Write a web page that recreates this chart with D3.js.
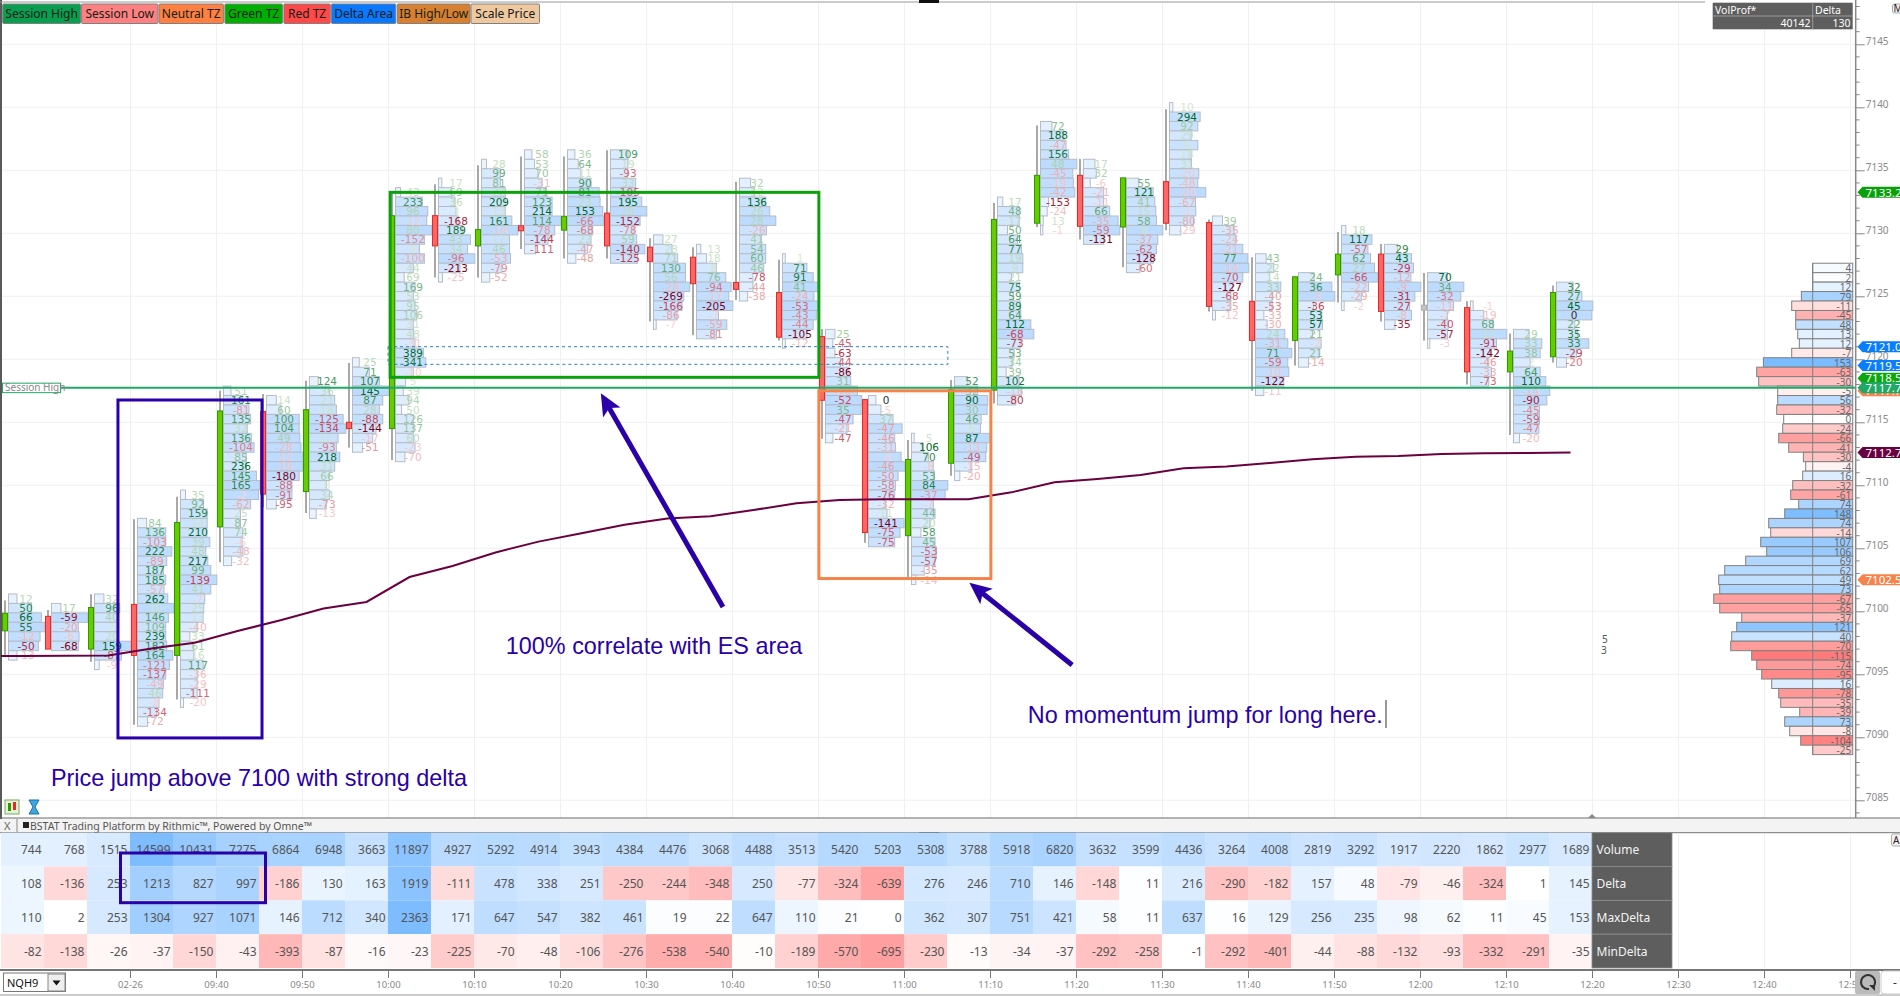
<!DOCTYPE html>
<html><head><meta charset="utf-8">
<script src="https://cdn.jsdelivr.net/npm/d3@7"></script>
<style>
html,body{margin:0;padding:0;background:#fff;overflow:hidden}
svg{display:block}
.axis path{display:none}
</style></head><body>
<svg id="c" width="1900" height="996" xmlns="http://www.w3.org/2000/svg"></svg>
<script>
// ---------- footprint data (one entry per 5-minute bar) ----------
const barTopPrice=[7101,7100.25,7101,7107,7109.25,7117.5,7116.75,7118.25,7119.75,7133.25,7134,7135.5,7136.25,7136.25,7136.25,7129.5,7128.75,7134,7128,7122,7116.75,7113.75,7118.25,7132.5,7138.5,7135.5,7134,7140,7131,7128,7126.5,7130.25,7128.75,7126.5,7124.25,7122,7125.75];
const barDeltas=[
[12,50,66,55,-12,-50,-13],
[17,-59,-20,-6,-68],
[32,96,40,2,20,159,-87,-9],
[84,136,-103,222,-89,187,185,-57,262,19,146,109,239,182,164,-121,-137,-49,46,-8,-134,-72],
[35,92,159,14,210,39,48,217,99,-139,41,-7,25,13,-40,33,61,16,117,-36,-29,-111,-20],
[51,161,-81,135,32,136,-104,85,236,145,165,-2,-62,25,87,74,-6,-48,-32],
[14,60,100,104,49,-28,-12,-19,-180,-88,-91,-95],
[124,36,21,18,-125,-134,12,-93,218,31,66,8,34,-73,-13],
[25,71,107,145,87,28,-88,-144,-17,-51],
[43,233,96,-12,80,-152,9,-100,44,69,169,53,95,106,31,48,-31,389,341,-10,5,39,94,50,126,137,60,-23,-70],
[17,69,36,3,-168,189,43,34,-96,-213,-25],
[28,99,81,22,209,13,161,-14,17,46,-53,-79,-52],
[58,53,70,-31,71,123,214,114,-78,-144,-111],
[36,64,11,90,81,23,153,-66,-68,22,-47,-48],
[109,19,-93,33,-105,195,28,-152,-78,59,-140,-125],
[27,28,71,130,56,-28,-269,-166,-86,-7],
[13,18,8,76,-94,-17,-205,-7,-59,-81],
[32,12,136,26,28,-26,41,54,60,46,-78,-44,-38],
[1,71,91,41,-24,-53,-43,-44,-105,-12],
[25,-45,-63,-44,-86,31,-10,-52,35,-47,-21,-47],
[0,-5,37,-47,-46,-31,-5,-46,-50,-58,-76,-32,11,-141,-75,-75],
[5,106,70,-8,53,84,-37,-7,44,20,58,45,-53,-57,-35,-14],
[52,32,90,30,46,6,87,-13,-49,-15,-20],
[17,48,17,50,64,77,19,9,21,75,59,89,64,112,-68,-73,53,34,39,102,-18,-80],
[72,188,-47,156,48,-45,-19,-42,-153,-24,13,-1],
[17,32,-6,-21,-11,66,-35,-59,-131],
[55,121,41,15,58,8,-37,-62,-128,-60],
[10,294,92,29,9,18,31,-20,-48,-20,-67,-1,-80,-29],
[39,-35,-24,-21,77,-14,-70,-127,-68,-35,-12],
[43,22,14,33,-40,-53,-33,-30,24,-31,71,-59,-10,-122,-11],
[24,36,-3,-36,53,57,21,-2,21,-14],
[18,117,-57,62,27,-66,-22,-29,-2],
[29,43,-29,-12,-9,-31,-27,-8,-35],
[70,34,-32,-11,-7,-40,-57,-3],
[-1,-19,68,13,-91,-142,-46,-33,-73],
[29,33,38,2,64,110,-14,-90,-45,-59,-47,-20],
[32,27,45,0,22,35,33,-29,-20]
];
const barVolumes=[
[25,68,97,107,93,88,25],
[28,108,80,82,80],
[28,75,70,70,70,108,80,14],
[27,84,84,102,87,77,84,79,90,108,92,84,84,87,105,95,84,77,75,64,57,30],
[15,69,80,80,79,88,76,82,91,109,91,73,70,68,50,28,40,40,68,50,50,50,9],
[22,55,75,80,70,82,90,67,67,97,107,103,80,50,50,57,55,57,24],
[27,40,90,90,92,95,100,100,90,70,70,27],
[26,60,75,80,100,108,85,80,90,75,60,50,60,50,20],
[20,50,80,108,90,80,90,70,60,30],
[15,80,96,93,108,86,71,86,53,26,58,53,58,63,53,53,58,83,90,53,30,23,40,18,53,53,53,58,28],
[10,40,50,53,60,73,97,88,110,65,12],
[15,57,57,72,72,72,92,110,85,85,88,62,25],
[22,30,40,52,65,82,82,108,90,70,33],
[22,32,40,70,94,97,105,108,75,70,60,25],
[52,52,50,75,75,93,108,88,70,78,102,80],
[28,55,72,95,95,108,90,85,70,8],
[13,30,60,88,104,97,109,66,91,60],
[33,45,78,90,108,80,65,78,78,72,40,40,24],
[8,70,88,103,90,104,97,88,70,8],
[28,22,28,45,70,75,95,108,106,82,64,22],
[22,37,73,100,78,80,97,108,88,80,78,50,55,106,94,78],
[8,35,50,65,68,108,100,65,70,55,28,70,74,70,38,13],
[40,70,100,98,80,78,109,97,94,52,16],
[16,65,65,30,60,72,76,76,42,66,48,68,70,100,109,68,50,44,26,65,72,55],
[34,70,76,84,108,96,98,102,24,20,8,7],
[34,38,20,60,60,78,103,108,60],
[37,80,85,88,90,109,94,90,80,40],
[10,92,85,65,85,65,66,88,85,109,78,79,72,34],
[30,65,70,91,106,109,91,60,55,55,9],
[32,55,42,76,50,50,25,35,88,97,109,97,100,85,25],
[47,100,109,45,70,72,42,68,62,30],
[13,92,80,88,100,110,82,60,8],
[40,82,88,80,110,92,76,82,32],
[60,109,100,78,60,62,60,7],
[8,40,68,109,78,58,55,63,55],
[47,85,80,50,80,97,109,100,78,78,76,18],
[50,76,109,106,55,63,97,60,30]
];
const candleOpen=[7098.45,7099.6,7097,7100.55,7096.5,7106.7,7115.85,7109.5,7115,7114.5,7131.4,7129,7130.6,7130.25,7131.6,7128.9,7128.1,7126.1,7125.3,7121.8,7116.8,7106,7111.75,7117.55,7130.8,7134.6,7130.5,7134.1,7130.85,7124.6,7121.5,7126.7,7128.35,7124.1,7124.1,7119,7120.2];
const candleClose=[7099.85,7097,7100.3,7096.5,7107.05,7115.9,7109.3,7116,7114.5,7131.4,7129,7130.3,7130.2,7131.35,7129,7127.75,7126,7125.55,7121.75,7116.75,7106.25,7112.05,7117.6,7131.1,7134.6,7130.55,7134.4,7130.8,7124.2,7121.5,7126.55,7128.35,7123.8,7124.1,7119,7120.65,7125.3];
const wickHigh=[7100.85,7100.1,7101.35,7107.3,7109.1,7117.5,7117.25,7118.3,7119.7,7133.2,7133.9,7135.4,7136.1,7136.1,7136.6,7129.6,7128.9,7134.1,7127.9,7122.4,7116.8,7113.6,7118.35,7132.4,7138.55,7135.9,7134.4,7139.85,7131.1,7128.1,7126.55,7130.1,7129.15,7126.85,7124.6,7122.05,7125.85];
const wickLow=[7096.55,7097,7096,7091,7093,7103.9,7108.25,7107.8,7113,7112,7126.5,7126.5,7128.75,7128,7128,7123,7121.9,7124.7,7121.5,7113.7,7105.45,7102.5,7110.75,7116.5,7130.5,7129.5,7127.3,7130.25,7123.8,7117.5,7119.5,7124.5,7123,7121.5,7118,7114,7119.75];
// ---------- VWAP (bar index, price) ----------
const vwapIndex=[-0.5,0,1,2,3,4,5,6,7,8,9,10,11,12,13,14,15,16,17,18,19,20,21,22,23,24,25,26,27,28,29,30,31,32,33,34,35,36];
const vwapPrice=[7096.45,7096.45,7096.47,7096.5,7097.04,7097.51,7098.44,7099.29,7100.22,7100.74,7102.72,7103.6,7104.67,7105.53,7106.2,7106.87,7107.36,7107.55,7108.04,7108.57,7108.83,7108.89,7108.9,7108.9,7109.44,7110.24,7110.5,7110.82,7111.35,7111.49,7111.77,7112.06,7112.27,7112.33,7112.49,7112.54,7112.56,7112.6];
// ---------- session volume profile ----------
const profileTopPrice=7127.25;
const profileDelta=[4,2,12,79,-11,-45,48,13,12,-7,153,-63,-30,-5,56,-32,0,-24,-66,-41,-30,-4,16,-32,-61,74,148,74,-14,107,106,69,62,49,73,-67,-65,-37,121,40,-70,-115,-74,-95,16,-78,-35,-39,73,-8,-104,-25];
const profileVolume=[0,0,0,170,315,255,255,225,200,315,740,840,810,525,525,540,435,450,510,360,140,105,150,300,330,210,420,660,630,780,690,1005,1320,1410,1395,1485,1395,1065,1140,1215,1230,915,840,765,615,510,480,195,420,345,180,0];
// ---------- bottom statistics table ----------
const tableRows=["Volume","Delta","MaxDelta","MinDelta"];
const tableVolume=[744,768,1515,14599,10431,7275,6864,6948,3663,11897,4927,5292,4914,3943,4384,4476,3068,4488,3513,5420,5203,5308,3788,5918,6820,3632,3599,4436,3264,4008,2819,3292,1917,2220,1862,2977,1689];
const tableDelta=[108,-136,253,1213,827,997,-186,130,163,1919,-111,478,338,251,-250,-244,-348,250,-77,-324,-639,276,246,710,146,-148,11,216,-290,-182,157,48,-79,-46,-324,1,145];
const tableMaxDelta=[110,2,253,1304,927,1071,146,712,340,2363,171,647,547,382,461,19,22,647,110,21,0,362,307,751,421,58,11,637,16,129,256,235,98,62,11,45,153];
const tableMinDelta=[-82,-138,-26,-37,-150,-43,-393,-87,-16,-23,-225,-70,-48,-106,-276,-538,-540,-10,-189,-570,-695,-230,-13,-34,-37,-292,-258,-1,-292,-401,-44,-88,-132,-93,-332,-291,-35];
// ---------- axes ----------
const priceTicks=[7145,7140,7135,7130,7125,7120,7115,7110,7105,7100,7095,7090,7085];
const timeLabels=["02-26","09:40","09:50","10:00","10:10","10:20","10:30","10:40","10:50","11:00","11:10","11:20","11:30","11:40","11:50","12:00","12:10","12:20","12:30","12:40","12:50"];
// ---------- toolbar + tags ----------
const legendLabels=["Session High","Session Low","Neutral TZ","Green TZ","Red TZ","Delta Area","IB High/Low","Scale Price"];
const legendColors=["#0a9f50","#ff8080","#ff8040","#00b000","#ff4848","#0a78ff","#d98030","#f0c8a0"];
const tagPrices=[7133.25,7121,7119.5,7118.5,7117.5,7117.75,7112.6,7102.5];
const tagColors=["#0aa00a","#0a7dff","#0a7dff","#0aa80a","#f5834a","#1fa866","#6b0040","#f5834a"];
const tagTexts=["7133.25","7121.00","7119.50","7118.50","7117.75","7117.75","7112.75","7102.50"];
const sessionHigh=7117.75;
// ---------- drawn annotations, in bar index / price ----------
const noteInk="#2a00a8";
const noteBoxes=[
 {i0:2.72,i1:6.07,p0:7116.77,p1:7089.95,c:noteInk},
 {i0:9.05,i1:19.02,p0:7133.25,p1:7118.57,c:"#0ca00c"},
 {i0:19.02,i1:23.02,p0:7117.5,p1:7102.6,c:"#f5834a"}];
const deltaAreaBox={i0:9,i1:22.02,p0:7121,p1:7119.6};
const noteArrows=[{i0:16.79,p0:7100.34,i1:13.95,p1:7117.3},{i0:24.91,p0:7095.74,i1:22.52,p1:7102.27}];
const noteTexts=[
 {t:"100% correlate with ES area",i:11.74,p:7096.6},
 {t:"No momentum jump for long here.",i:23.88,p:7091.15},
 {t:"Price jump above 7100 with strong delta",i:1.16,p:7086.15}];

const svg=d3.select("#c");
const uiFont='"Noto Sans",sans-serif', cellFont='"DejaVu Sans",sans-serif';
const xBar=d3.scaleLinear().domain([0,37]).range([1,1592]);
const yP=d3.scaleLinear().domain([7145,7085]).range([44.3,800.3]);
const rowPx=Math.abs(yP(7100)-yP(7100.75));

// grid
const grid=svg.append("g").attr("stroke","#eef0f2").attr("stroke-width",1);
priceTicks.forEach(p=>grid.append("line").attr("x1",2).attr("x2",1855).attr("y1",yP(p)).attr("y2",yP(p)));
timeLabels.forEach((t,k)=>{const x=xBar(3+2*k)+.5;
  grid.append("line").attr("x1",x).attr("x2",x).attr("y1",3).attr("y2",818);
  if(x>1600)grid.append("line").attr("x1",x).attr("x2",x).attr("y1",834).attr("y2",968);});

// footprint rows
const posInk=d3.scaleLinear().domain([0,.3,.6,1]).range(["#d8ebd2","#a4cea4","#3e9457","#006b2a"]);
const negInk=d3.scaleLinear().domain([0,.3,.6,1]).range(["#f9d4d4","#eba6a6","#c8485c","#800018"]);
const foot=svg.append("g");
barDeltas.forEach((ds,i)=>{
  const vols=barVolumes[i], base=xBar(i)+7;
  const w=d3.scaleLinear().domain([0,d3.max(vols)]).range([0,36.3]);
  const fill=d3.scaleLinear().domain([0,d3.max(vols)]).range(["#f4f9ff","#bcdbff"]);
  const g=foot.append("g");
  g.selectAll("rect").data(ds).join("rect")
    .attr("x",base+.5)
    .attr("y",(d,k)=>yP(barTopPrice[i]-k*.75)-rowPx/2)
    .attr("width",(d,k)=>w(vols[k]))
    .attr("height",rowPx)
    .attr("fill",(d,k)=>fill(vols[k]))
    .attr("stroke","#b4bcc8").attr("stroke-width",1);
});
barDeltas.forEach((ds,i)=>{
  const maxD=d3.max(ds,Math.abs);
  foot.append("g").selectAll("text").data(ds).join("text")
    .attr("x",xBar(i)+25)
    .attr("y",(d,k)=>yP(barTopPrice[i]-k*.75)+3.8)
    .attr("text-anchor","middle").attr("font-family",cellFont).attr("font-size",10.5)
    .attr("fill",d=>d===0?"#333":d>0?posInk(Math.abs(d)/maxD):negInk(Math.abs(d)/maxD))
    .text(d=>d);
});
// candles
const candles=svg.append("g");
candleOpen.forEach((o,i)=>{
  const c=candleClose[i], cx=xBar(i)+4;
  candles.append("line").attr("x1",cx).attr("x2",cx).attr("y1",yP(wickHigh[i])).attr("y2",yP(wickLow[i]))
    .attr("stroke","#a8a8a8").attr("stroke-width",2);
  const up=c>o, flat=Math.abs(c-o)<.05;
  const top=Math.max(o,c), bot=Math.min(o,c);
  candles.append("rect").attr("x",xBar(i)+1.5).attr("width",5)
    .attr("y",yP(flat?top+.2:top)).attr("height",Math.max(yP(flat?top-.2:bot)-yP(flat?top+.2:top),3))
    .attr("fill",flat?"#c4c4c4":up?"#66cc00":"#ff6666")
    .attr("stroke",flat?"#b0b0b0":up?"#2f9a00":"#e82828").attr("stroke-width",1);
});
// vwap
svg.append("path").attr("fill","none").attr("stroke","#6b0040").attr("stroke-width",2)
  .attr("d",d3.line().x((d,k)=>xBar(vwapIndex[k])+21.5).y(d=>yP(d))(vwapPrice));

// volume profile
const profX=1812.7, profR=1852.7;
const profW=d3.scaleLinear().domain([0,1485]).range([0,99]);
const blueProf=d3.scaleLinear().domain([0,16,75,150]).range(["#ffffff","#dcedff","#acd4ff","#7dbcff"]);
const redProf=d3.scaleLinear().domain([0,10,40,115]).range(["#ffffff","#ffdfdf","#ffb4b4","#ff7b7b"]);
const prof=svg.append("g");
prof.selectAll("rect").data(profileDelta).join("rect")
  .attr("x",(d,k)=>profX-profW(profileVolume[k]))
  .attr("y",(d,k)=>yP(profileTopPrice-k*.75)-rowPx/2)
  .attr("width",(d,k)=>profR-profX+profW(profileVolume[k]))
  .attr("height",rowPx)
  .attr("fill",d=>d>=0?blueProf(d):redProf(-d))
  .attr("stroke","#808080").attr("stroke-width",1);
prof.append("line").attr("x1",profX).attr("x2",profX)
  .attr("y1",yP(profileTopPrice)-rowPx/2).attr("y2",yP(profileTopPrice-.75*(profileDelta.length-1))+rowPx/2)
  .attr("stroke","#808080");
prof.append("g").selectAll("text").data(profileDelta).join("text")
  .attr("x",profR-1.5).attr("y",(d,k)=>yP(profileTopPrice-k*.75)+4.2)
  .attr("text-anchor","end").attr("font-family",uiFont).attr("font-size",10).attr("fill","#666").text(d=>d);

// session high line & label
svg.append("line").attr("x1",61).attr("x2",1855).attr("y1",yP(sessionHigh)).attr("y2",yP(sessionHigh))
  .attr("stroke","#1fa866").attr("stroke-width",2);
svg.append("rect").attr("x",2.5).attr("y",yP(sessionHigh)-4.5).attr("width",58).attr("height",9.5)
  .attr("fill","#fff").attr("stroke","#1fa866");
svg.append("text").attr("x",5).attr("y",yP(sessionHigh)+3.6).attr("font-family",uiFont).attr("font-size",10).attr("fill","#888").text("Session High");

// annotation boxes
svg.append("rect").attr("x",xBar(deltaAreaBox.i0)).attr("width",xBar(deltaAreaBox.i1)-xBar(deltaAreaBox.i0))
  .attr("y",yP(deltaAreaBox.p0)).attr("height",yP(deltaAreaBox.p1)-yP(deltaAreaBox.p0))
  .attr("fill","none").attr("stroke","#2f7fc0").attr("stroke-dasharray","3,3");
noteBoxes.forEach(b=>svg.append("rect").attr("x",xBar(b.i0)).attr("width",xBar(b.i1)-xBar(b.i0))
  .attr("y",yP(b.p0)).attr("height",yP(b.p1)-yP(b.p0))
  .attr("fill","none").attr("stroke",b.c).attr("stroke-width",3));
noteArrows.forEach(a=>{
  const x0=xBar(a.i0),y0=yP(a.p0),x1=xBar(a.i1),y1=yP(a.p1);
  const L=Math.hypot(x1-x0,y1-y0),ux=(x1-x0)/L,uy=(y1-y0)/L,nx=-uy,ny=ux;
  svg.append("line").attr("x1",x0).attr("y1",y0).attr("x2",x1-ux*14).attr("y2",y1-uy*14).attr("stroke",noteInk).attr("stroke-width",5);
  svg.append("path").attr("fill",noteInk).attr("d",d3.line()([[x1,y1],[x1-ux*22+nx*10,y1-uy*22+ny*10],[x1-ux*17,y1-uy*17],[x1-ux*22-nx*10,y1-uy*22-ny*10]])+"Z");
});
noteTexts.forEach(n=>svg.append("text").attr("x",xBar(n.i)).attr("y",yP(n.p)).attr("font-family",'"Liberation Sans",sans-serif').attr("font-size",23.4).attr("fill",noteInk).text(n.t));
// typing caret after the last note
svg.append("line").attr("x1",1386).attr("x2",1386).attr("y1",700).attr("y2",728).attr("stroke","#333").attr("stroke-width",1);
// stray numbers
svg.append("text").attr("x",1602).attr("y",643).attr("font-family",uiFont).attr("font-size",10).attr("fill","#555").text("5");
svg.append("text").attr("x",1601).attr("y",654).attr("font-family",uiFont).attr("font-size",10).attr("fill","#555").text("3");

// frame
svg.append("line").attr("x1",1).attr("x2",1).attr("y1",0).attr("y2",832).attr("stroke","#222").attr("stroke-width",1.5);
svg.append("line").attr("x1",0).attr("x2",1705).attr("y1",2).attr("y2",2).attr("stroke","#999");
svg.append("line").attr("x1",0).attr("x2",1900).attr("y1",818).attr("y2",818).attr("stroke","#666");
svg.append("rect").attr("x",919).attr("y",0).attr("width",20).attr("height",3).attr("fill","#111");

// price axis
const axR=svg.append("g").attr("class","axis").attr("transform","translate(1855.7,0)")
  .call(d3.axisRight(yP).tickValues(priceTicks).tickSize(9).tickPadding(1).tickFormat(d3.format("d")));
axR.selectAll("line").attr("stroke","#888");
axR.selectAll("text").attr("dy","0").attr("font-family",uiFont).attr("font-size",10).attr("fill","#8a8a8a");
axR.append("line").attr("y1",0).attr("y2",818).attr("stroke","#888").attr("stroke-width",1.5);
axR.append("g").selectAll("line").data(d3.range(7084,7149).filter(p=>p%5)).join("line")
  .attr("x2",4).attr("y1",d=>yP(d)).attr("y2",d=>yP(d)).attr("stroke","#888");

// price tags
const tags=svg.append("g");
tagPrices.forEach((p,k)=>{
  const y=yP(p);
  tags.append("path").attr("fill",tagColors[k]).attr("d",`M1857.5,${y}l5,-5.5h40v11h-40z`);
  tags.append("text").attr("x",1865.5).attr("y",y+4.2).attr("font-family",uiFont).attr("font-size",11.5).attr("fill","#fff").text(tagTexts[k]);
});

// toolbar legend
const lx=d3.scaleOrdinal().domain(legendLabels).range([2.7,81.6,159,224.9,283.9,331.4,397.3,471]);
const lw=[77.8,76.3,64.4,57.5,46.4,64.4,72.7,68.5];
legendLabels.forEach((t,k)=>{
  svg.append("rect").attr("x",lx(t)).attr("y",4).attr("width",lw[k]).attr("height",19.5).attr("rx",1).attr("fill",legendColors[k]).attr("stroke","#808080");
  svg.append("text").attr("x",lx(t)+lw[k]/2).attr("y",18.2).attr("text-anchor","middle").attr("font-family",uiFont).attr("font-size",12).attr("fill","#102018").text(t);
});
// VolProf block
svg.append("rect").attr("x",1712.7).attr("y",2.7).attr("width",140).attr("height",26.6).attr("fill","#5e5e5e");
[[1812.7,2.7,1812.7,29.3],[1712.7,16,1852.7,16]].forEach(l=>svg.append("line").attr("x1",l[0]).attr("y1",l[1]).attr("x2",l[2]).attr("y2",l[3]).attr("stroke","#999"));
[["VolProf*",1715,13.5,"start"],["Delta",1815,13.5,"start"],["40142",1810.5,27,"end"],["130",1850.5,27,"end"]].forEach(t=>
  svg.append("text").attr("x",t[1]).attr("y",t[2]).attr("text-anchor",t[3]).attr("font-family",uiFont).attr("font-size",10.5).attr("fill","#fff").text(t[0]));
svg.append("rect").attr("x",1892.5).attr("y",4).attr("width",12).attr("height",9).attr("rx",2).attr("fill","#f4f4f4").attr("stroke","#aaa");
svg.append("text").attr("x",1893.5).attr("y",12).attr("font-family",uiFont).attr("font-size",10).attr("fill","#222").text("M");

// chart corner icons
svg.append("rect").attr("x",5).attr("y",800).attr("width",14).attr("height",14).attr("fill","#e6f2d8").attr("stroke","#7aa860");
svg.append("rect").attr("x",8).attr("y",803).attr("width",3).attr("height",8).attr("fill","#2f9a00");
svg.append("rect").attr("x",13).attr("y",802).attr("width",3).attr("height",8).attr("fill","#e82828");
svg.append("path").attr("d","M29,800h10l-4,7l4,7h-10l4,-7z").attr("fill","#3fa7e0").attr("stroke","#1b6fa8");
svg.append("path").attr("d","M1588,818l4,-4l4,4z").attr("fill","#888");

// status bar
svg.append("rect").attr("x",0).attr("y",819).attr("width",1900).attr("height",13.5).attr("fill","#f3f3f3");
svg.append("rect").attr("x",919).attr("y",832).attr("width",20).attr("height",3).attr("fill","#111");
svg.append("line").attr("x1",0).attr("x2",1900).attr("y1",832.7).attr("y2",832.7).attr("stroke","#777");
svg.append("line").attr("x1",17).attr("x2",17).attr("y1",819).attr("y2",832).attr("stroke","#888");
svg.append("text").attr("x",4).attr("y",830).attr("font-family",uiFont).attr("font-size",11).attr("fill","#666").text("X");
svg.append("rect").attr("x",23).attr("y",822).attr("width",6).attr("height",6).attr("fill","#222");
svg.append("text").attr("x",30).attr("y",830).attr("font-family",uiFont).attr("font-size",10.5).attr("fill","#555").text("BSTAT  Trading Platform by Rithmic™, Powered by Omne™");

// table
const tableData=[tableVolume,tableDelta,tableMaxDelta,tableMinDelta];
const rowY=d3.scaleBand().domain(tableRows).range([832.7,968]);
const volColor=d3.scaleLinear().domain([0,1500,5000,7000,14600]).range(["#eef6ff","#d8eaff","#b9dbff","#a8d2ff","#7cbcff"]);
const posCell=d3.scaleLinear().domain([0,250,1000,2363]).range(["#ffffff","#d6e9ff","#aad3ff","#7cbcff"]);
const negCell=d3.scaleLinear().domain([0,100,300,700]).range(["#ffffff","#ffdede","#ffc0c0","#ff9f9f"]);
tableRows.forEach((name,r)=>{
  const vals=tableData[r], g=svg.append("g");
  g.selectAll("rect").data(vals).join("rect")
    .attr("x",(d,i)=>xBar(i)).attr("y",rowY(name)).attr("width",xBar(1)-xBar(0)+.3).attr("height",rowY.bandwidth())
    .attr("fill",d=>r===0?volColor(d):d>=0?posCell(d):negCell(-d));
  g.selectAll("text").data(vals).join("text")
    .attr("x",(d,i)=>xBar(i+1)-2.5).attr("y",rowY(name)+rowY.bandwidth()/2+4.5)
    .attr("text-anchor","end").attr("font-family",uiFont).attr("font-size",12).attr("fill","#555").text(d=>d);
  svg.append("rect").attr("x",1592).attr("y",rowY(name)).attr("width",80).attr("height",rowY.bandwidth()).attr("fill","#5e5e5e").attr("stroke","#8c8c8c").attr("stroke-width",.8);
  svg.append("text").attr("x",1596.5).attr("y",rowY(name)+rowY.bandwidth()/2+4.5).attr("font-family",uiFont).attr("font-size",12).attr("fill","#f4f4f4").text(name);
});
svg.append("rect").attr("x",120.5).attr("y",853).attr("width",145).attr("height",49.7).attr("fill","none").attr("stroke",noteInk).attr("stroke-width",3);

// time axis
const axT=svg.append("g").attr("class","axis").attr("transform","translate(0,970)")
  .call(d3.axisBottom(d3.scaleLinear().domain([0,37]).range([1,1592])).tickValues(timeLabels.map((t,k)=>3+2*k)).tickSize(8).tickPadding(3).tickFormat((d,k)=>timeLabels[k]));
axT.selectAll("line").attr("stroke","#777");
axT.selectAll("text").attr("font-family",uiFont).attr("font-size",9.5).attr("fill","#888");
svg.append("line").attr("x1",0).attr("x2",1900).attr("y1",970).attr("y2",970).attr("stroke","#777").attr("stroke-width",2);
svg.append("line").attr("x1",0).attr("x2",1900).attr("y1",995).attr("y2",995).attr("stroke","#999");

// instrument selector
svg.append("rect").attr("x",3.5).attr("y",973).attr("width",62).attr("height",18.5).attr("fill","#fff").attr("stroke","#777");
svg.append("text").attr("x",7).attr("y",986.5).attr("font-family",uiFont).attr("font-size",11).attr("fill","#111").text("NQH9");
svg.append("rect").attr("x",48).attr("y",974).attr("width",17).attr("height",17).attr("fill","#eee").attr("stroke","#888");
svg.append("path").attr("d","M52.5,980.5h8l-4,5z").attr("fill","#111");
// right-bottom buttons
svg.append("rect").attr("x",1855).attr("y",971).attr("width",25).attr("height",23).attr("rx",2).attr("fill","#bbbbbb");
svg.append("path").attr("d","M1873,987a7,7 0 1 0 -4,2").attr("fill","none").attr("stroke","#333").attr("stroke-width",2);
svg.append("path").attr("d","M1869,985l6,0l0,6z").attr("fill","#333");
svg.append("rect").attr("x",1881).attr("y",971).attr("width",22).attr("height",23).attr("rx",3).attr("fill","#fff").attr("stroke","#ccc");
svg.append("text").attr("x",1893).attr("y",987).attr("font-family",uiFont).attr("font-size",12).attr("fill","#333").text("-");
svg.append("rect").attr("x",1891.5).attr("y",834).attr("width",12).attr("height",12).attr("rx",2).attr("fill","#f4f4f4").attr("stroke","#aaa");
svg.append("text").attr("x",1893).attr("y",844).attr("font-family",uiFont).attr("font-size",10).attr("fill","#222").text("A");
</script></body></html>
